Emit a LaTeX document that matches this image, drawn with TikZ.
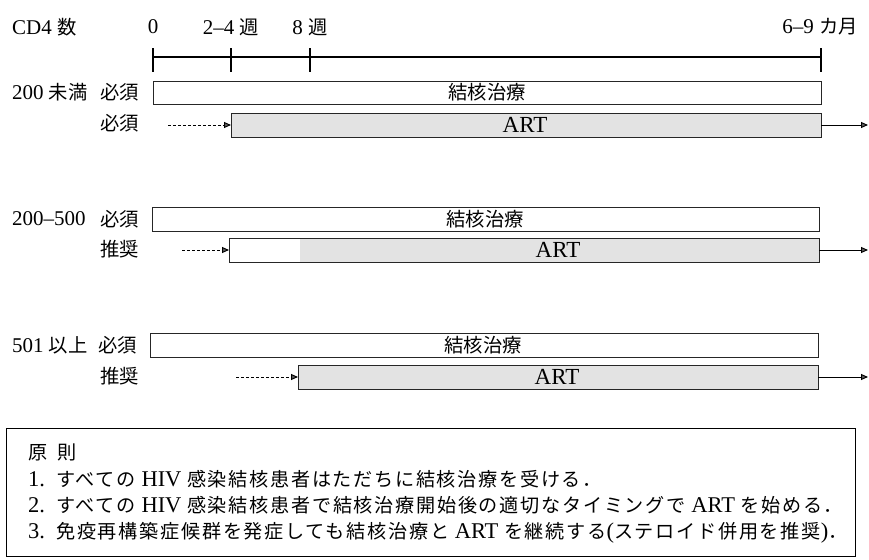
\documentclass[tikz,border=0pt]{standalone}
\usepackage{fontspec}
\setmainfont{Liberation Serif}
\newfontfamily\jpf[Scale=0.92]{Noto Sans CJK JP}
\newfontfamily\jpfb[Scale=0.85,LetterSpace=9]{Noto Sans CJK JP}
\usetikzlibrary{arrows.meta}
\tikzset{
  txt/.style={inner sep=0pt, font=\fontsize{21bp}{24bp}\selectfont},
  lbl/.style={txt, anchor=west},
  arttxt/.style={inner sep=0pt, font=\fontsize{23bp}{24bp}\selectfont},
  ptxt/.style={inner sep=0pt, anchor=west, text height=15bp, text depth=3bp, font=\fontsize{22.5bp}{24bp}\selectfont},
  tbbox/.style={draw=black!85, line width=0.8bp, fill=white},
  artbox/.style={draw=black!85, line width=0.8bp, fill=gray!22},
  dasharrow/.style={densely dashed, line width=0.9bp, -{Triangle[length=7bp,width=6bp,fill=gray!70!black]}},
  outarrow/.style={line width=0.9bp, -{Triangle[length=7bp,width=6bp,fill=gray!70!black]}},
  axis/.style={line width=1.3bp},
}
\begin{document}
\begin{tikzpicture}[x=1bp,y=-1bp]
\useasboundingbox (0,0) rectangle (869,560);
% header
\node[lbl] (cd4) at (12,27) {CD4 {\jpf 数}};
\node[txt] (t0) at (153,27) {0};
\node[txt] (t24) at (231,27) {2–4 {\jpf 週}};
\node[txt] (t8) at (310,27) {8 {\jpf 週}};
\node[txt] (t69) at (820,27) {6–9 {\jpf カ月}};
% axis
\coordinate (a0) at (153,57);
\coordinate (a1) at (231,57);
\coordinate (a2) at (310,57);
\coordinate (a3) at (821,57);
\draw[axis] (a0) -- (a3);
\foreach \p in {a0,a1,a2,a3} \draw[axis] ([yshift=-15bp]\p) -- ([yshift=9bp]\p);
% row 1
\node[lbl] (r1) at (12,92) {200 {\jpf 未満}};
\node[lbl] (r1a) at (100,92) {\jpf 必須};
\node[lbl] (r1b) at (100,123) {\jpf 必須};
\draw[tbbox] (153,81) rectangle (821,104);
\node[txt] (tb1) at (487,92) {\jpf 結核治療};
\draw[artbox] (231,113) rectangle (821,137);
\node[arttxt] (art1) at (525,125) {ART};
\coordinate (art1w) at (231,125);
\coordinate (art1e) at (821,125);
\coordinate (d1) at (168,125);
\coordinate (o1) at (868,125);
\draw[dasharrow] (d1) -- (art1w);
\draw[outarrow] (art1e) -- (o1);
% row 2
\node[lbl] (r2) at (12,219) {200–500};
\node[lbl] (r2a) at (100,219) {\jpf 必須};
\node[lbl] (r2b) at (100,249) {\jpf 推奨};
\draw[tbbox] (152,207) rectangle (819,231);
\node[txt] (tb2) at (485,219) {\jpf 結核治療};
\fill[gray!22] (300,238) rectangle (819,262);
\draw[draw=black!85, line width=0.8bp] (229,238) rectangle (819,262);
\node[arttxt] (art2) at (558,250) {ART};
\coordinate (art2w) at (229,250);
\coordinate (art2e) at (819,250);
\coordinate (d2) at (182,250);
\coordinate (o2) at (868,250);
\draw[dasharrow] (d2) -- (art2w);
\draw[outarrow] (art2e) -- (o2);
% row 3
\node[lbl] (r3) at (12,345) {501 {\jpf 以上}};
\node[lbl] (r3a) at (98,345) {\jpf 必須};
\node[lbl] (r3b) at (100,376) {\jpf 推奨};
\draw[tbbox] (150,333) rectangle (818,357);
\node[txt] (tb3) at (483,345) {\jpf 結核治療};
\draw[artbox] (298,365) rectangle (818,389);
\node[arttxt] (art3) at (557,377) {ART};
\coordinate (art3w) at (298,377);
\coordinate (art3e) at (818,377);
\coordinate (d3) at (236,377);
\coordinate (o3) at (868,377);
\draw[dasharrow] (d3) -- (art3w);
\draw[outarrow] (art3e) -- (o3);
% principles box
\draw[line width=0.9bp] (6,428) rectangle (855,556);
\node[ptxt] (p0) at (28,453) {\jpfb 原\hspace{10bp}則};
\node[ptxt] (p1) at (28,480) {1.\ \ {\jpfb すべての} HIV {\jpfb 感染結核患者はただちに結核治療を受ける．}};
\node[ptxt] (p2) at (28,506) {2.\ \ {\jpfb すべての} HIV {\jpfb 感染結核患者で結核治療開始後の適切なタイミングで} ART {\jpfb を始める．}};
\node[ptxt] (p3) at (28,532) {3.\ \ {\jpfb 免疫再構築症候群を発症しても結核治療と} ART {\jpfb を継続する}({\jpfb ステロイド併用を推奨}){\jpfb ．}};
\end{tikzpicture}
\end{document}
